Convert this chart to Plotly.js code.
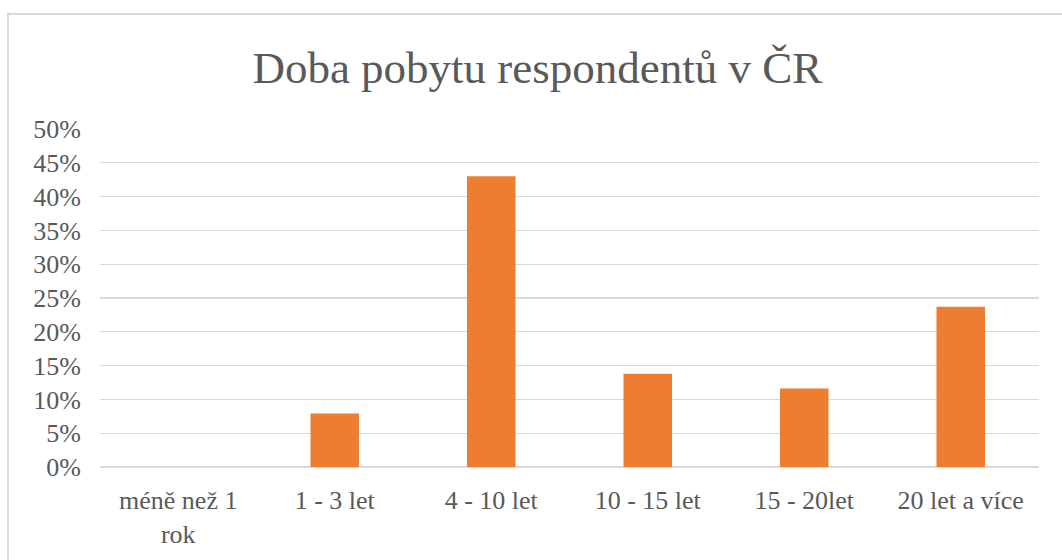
<!DOCTYPE html>
<html>
<head>
<meta charset="utf-8">
<script src="https://cdn.plot.ly/plotly-3.0.1.min.js"></script>
<style>
  html, body { margin: 0; padding: 0; background: #fff; }
  #wrap { position: relative; width: 1062px; height: 560px; overflow: hidden; }
  #chart { position: absolute; left: 0; top: 0; width: 1062px; height: 560px; }
  #frame { position: absolute; left: 7px; top: 13px; width: 1100px; height: 600px;
           border-left: 2px solid #d9d9d9; border-top: 2px solid #d9d9d9; pointer-events: none; }
</style>
</head>
<body>
<div id="wrap">
  <div id="chart"></div>
  <div id="frame"></div>
</div>
<script>
const categories = ["méně než 1<br>rok", "1 - 3 let", "4 - 10 let", "10 - 15 let", "15 - 20let", "20 let a více"];
const shares = [0, 0.079, 0.430, 0.138, 0.116, 0.237];
const chartTitle = "Doba pobytu respondentů v ČR";

const textColor = "#595959";
const serif = "Liberation Serif";

const data = [{
  type: "bar",
  x: categories,
  y: shares,
  marker: { color: "#ED7D31" },
  hoverinfo: "x+y"
}];

const layout = {
  width: 1062,
  height: 560,
  paper_bgcolor: "rgba(0,0,0,0)",
  plot_bgcolor: "#fff",
  margin: { l: 100, r: 23, t: 128.5, b: 92.5, pad: 0 },
  bargap: 0.69,
  showlegend: false,
  font: { family: serif, color: textColor, size: 26 },
  title: {
    text: chartTitle,
    font: { family: serif, size: 45, color: textColor },
    x: 0.506, xanchor: "center",
    y: 1 - 67 / 560, yanchor: "middle"
  },
  xaxis: {
    type: "category",
    showgrid: false, showline: false, zeroline: false, ticks: "",
    ticklabelstandoff: 15,
    tickfont: { family: serif, size: 26, color: textColor }
  },
  yaxis: {
    range: [0, 0.5], dtick: 0.05, tick0: 0, tickformat: ".0%",
    showgrid: true, gridcolor: "#d9d9d9", gridwidth: 1.3,
    zeroline: true, zerolinecolor: "#d9d9d9", zerolinewidth: 1.6,
    showline: false, ticks: "", ticklabelstandoff: 18,
    tickfont: { family: serif, size: 26, color: textColor }
  }
};

Plotly.newPlot("chart", data, layout, { staticPlot: true, displayModeBar: false });
</script>
</body>
</html>
